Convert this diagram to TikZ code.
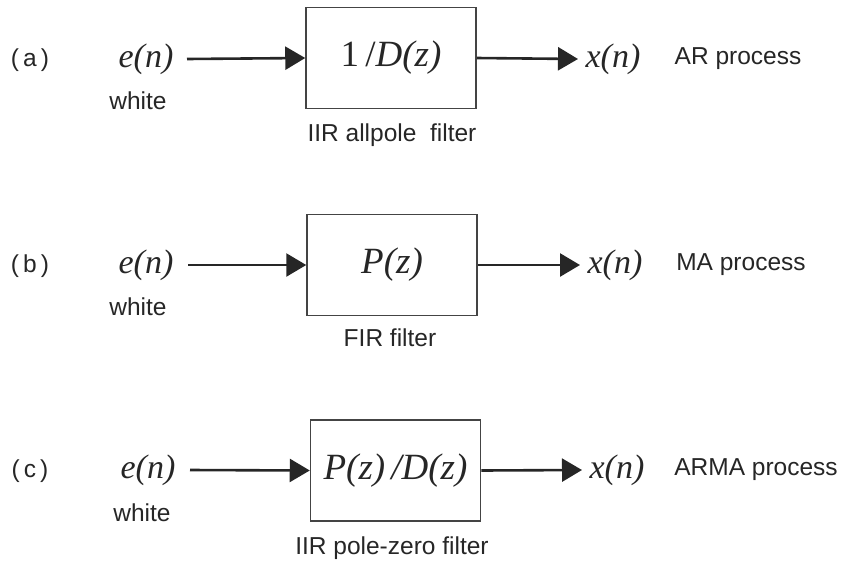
\documentclass[tikz,border=0pt]{standalone}
\usepackage{fontspec}
\setmainfont{Liberation Sans}
\newfontfamily\tms{Liberation Serif}
\usetikzlibrary{arrows.meta}
\definecolor{ink}{HTML}{262626}
\definecolor{boxc}{HTML}{444444}
\begin{document}
\begin{tikzpicture}[x=1pt,y=1pt,
  lab/.style={text=ink,font=\fontsize{24.5}{28}\selectfont,inner sep=0pt},
  sig/.style={text=ink,font=\tms\itshape\fontsize{34}{38}\selectfont,inner sep=0pt},
  filt/.style={draw=boxc,line width=1.5pt,minimum width=170pt,minimum height=101pt,inner sep=0pt,text=ink,font=\tms\fontsize{37}{40}\selectfont},
  flow/.style={draw=ink,line width=2.6pt,-{Triangle[length=20pt,width=23pt]}}]
\useasboundingbox (0,0) rectangle (843,-563);
% row a
\node[lab] (la) at (30,-60) {(\,a\,)};
\node[sig] (ea) at (146,-59) {e(n)};
\node[lab] (wa) at (138,-101) {white};
\node[filt] (fa) at (391,-58) {1\,/{\itshape D(z)}};
\node[lab] (ca) at (392,-135) {IIR allpole\ \ filter};
\node[sig] (xa) at (613,-59) {x(n)};
\node[lab] (pa) at (738,-59) {AR process};
\coordinate (sa) at (187,-59);
\coordinate (ta) at (578,-59);
\draw[flow] (sa) -- (fa.west);
\draw[flow] (fa.east) -- (ta);
% row b
\node[lab] (lb) at (30,-266) {(\,b\,)};
\node[sig] (eb) at (146,-265) {e(n)};
\node[lab] (wb) at (138,-307) {white};
\node[filt] (fb) at (392,-265) {{\itshape P(z)}};
\node[lab] (cb) at (390,-338) {FIR filter};
\node[sig] (xb) at (615,-265) {x(n)};
\node[lab] (pb) at (741,-265) {MA process};
\coordinate (sb) at (188,-265);
\coordinate (tb) at (580,-265);
\draw[flow] (sb) -- (fb.west);
\draw[flow] (fb.east) -- (tb);
% row c
\node[lab] (lc) at (30,-471) {(\,c\,)};
\node[sig] (ec) at (148,-470) {e(n)};
\node[lab] (wc) at (142,-513) {white};
\node[filt] (fc) at (395.5,-470.5) {{\itshape P(z)\,/D(z)}};
\node[lab] (cc) at (392,-548) {IIR pole-zero filter};
\node[sig] (xc) at (617,-470) {x(n)};
\node[lab] (pc) at (756,-470) {ARMA process};
\coordinate (sc) at (190,-470);
\coordinate (tc) at (582,-470);
\draw[flow] (sc) -- (fc.west);
\draw[flow] (fc.east) -- (tc);
\end{tikzpicture}
\end{document}
